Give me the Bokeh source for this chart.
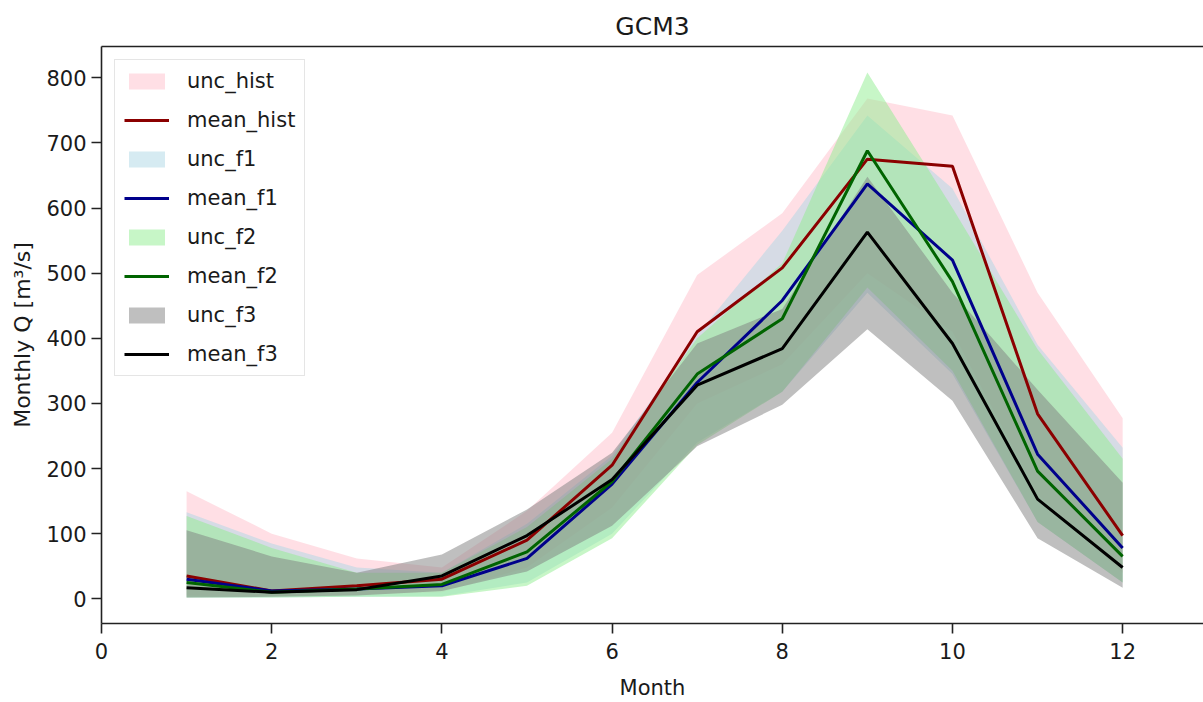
from bokeh.plotting import figure
from bokeh.models import (ColumnDataSource, Legend, LegendItem, LinearAxis,
                          FixedTicker, Range1d)
from bokeh.embed import file_html
from bokeh.resources import INLINE

# Monthly discharge, GCM3 ensemble: mean and uncertainty envelope per period
months = [1, 2, 3, 4, 5, 6, 7, 8, 9, 10, 11, 12]

hist_mean = [35, 12, 20, 30, 90, 205, 410, 508, 675, 664, 284, 97]
hist_lo = [5, 4, 6, 10, 48, 140, 300, 360, 500, 410, 160, 40]
hist_hi = [165, 100, 62, 48, 135, 255, 497, 592, 768, 742, 470, 277]

f1_mean = [30, 12, 15, 20, 62, 176, 332, 458, 637, 520, 222, 78]
f1_lo = [2, 2, 3, 4, 25, 100, 240, 318, 470, 345, 118, 25]
f1_hi = [133, 85, 48, 40, 115, 220, 405, 565, 742, 630, 390, 232]

f2_mean = [25, 10, 15, 22, 72, 180, 345, 430, 688, 487, 196, 65]
f2_lo = [2, 2, 3, 3, 20, 93, 236, 318, 478, 350, 118, 25]
f2_hi = [127, 78, 40, 40, 110, 215, 400, 515, 808, 600, 383, 215]

f3_mean = [17, 10, 14, 35, 97, 183, 328, 384, 563, 392, 153, 48]
f3_lo = [2, 3, 5, 12, 42, 112, 234, 298, 414, 304, 93, 17]
f3_hi = [105, 65, 40, 68, 137, 224, 392, 445, 648, 470, 321, 178]

x_ticks = [0, 2, 4, 6, 8, 10, 12]
y_ticks = [0, 100, 200, 300, 400, 500, 600, 700, 800]

series = [
    ("hist", hist_mean, hist_lo, hist_hi, "#ffc0cb", "#8b0000"),
    ("f1", f1_mean, f1_lo, f1_hi, "#add8e6", "#00008b"),
    ("f2", f2_mean, f2_lo, f2_hi, "#90ee90", "#006400"),
    ("f3", f3_mean, f3_lo, f3_hi, "#808080", "#000000"),
]

FONT = "DejaVu Sans"
TXT = "#1a1a1a"
SPINE = "#222222"

p = figure(width=1203, height=702, output_backend="svg", toolbar_location=None,
           x_range=Range1d(0, 12.95), y_range=Range1d(-38, 848),
           min_border_left=101, min_border_right=0, min_border_top=46,
           min_border_bottom=79, title="GCM3")

p.title.align = "center"
p.title.text_font = FONT
p.title.text_font_size = "25px"
p.title.text_font_style = "normal"
p.title.text_color = TXT
p.title.standoff = 11

p.grid.visible = False
p.outline_line_color = None
p.background_fill_color = "white"
p.border_fill_color = "white"

for ax in (p.xaxis[0], p.yaxis[0]):
    ax.axis_line_color = SPINE
    ax.axis_line_width = 1.6
    ax.major_tick_line_color = SPINE
    ax.major_tick_line_width = 1.6
    ax.major_tick_out = 10
    ax.major_tick_in = 0
    ax.minor_tick_line_color = None
    ax.major_label_text_font = FONT
    ax.major_label_text_font_size = "21px"
    ax.major_label_text_color = TXT
    ax.axis_label_text_font = FONT
    ax.axis_label_text_font_size = "22px"
    ax.axis_label_text_font_style = "normal"
    ax.axis_label_text_color = TXT

p.xaxis[0].ticker = FixedTicker(ticks=x_ticks)
p.yaxis[0].ticker = FixedTicker(ticks=y_ticks)
p.xaxis[0].axis_label = "Month"
p.xaxis[0].axis_label_text_font_size = "21px"
p.yaxis[0].axis_label = "Monthly Q [m³/s]"
p.xaxis[0].major_label_standoff = 9
p.xaxis[0].axis_label_standoff = 14
p.yaxis[0].major_label_standoff = 5
p.yaxis[0].axis_label_standoff = 8

# top spine
top = LinearAxis(ticker=FixedTicker(ticks=[]), axis_line_color=SPINE,
                 axis_line_width=1.6, major_tick_out=0, major_tick_in=0,
                 minor_tick_out=0, minor_tick_in=0, major_label_standoff=0,
                 major_label_text_font_size="0px")
p.add_layout(top, "above")

items = []
bands = []
for name, mean, lo, hi, band_color, line_color in series:
    src = ColumnDataSource(dict(x=months, mean=mean, lo=lo, hi=hi))
    band = p.varea(x="x", y1="lo", y2="hi", source=src,
                   fill_color=band_color, fill_alpha=0.5)
    bands.append((name, band, src, line_color))

for name, band, src, line_color in bands:
    line = p.line(x="x", y="mean", source=src, line_color=line_color,
                  line_width=3)
    items.append(LegendItem(label="unc_" + name, renderers=[band]))
    items.append(LegendItem(label="mean_" + name, renderers=[line]))

legend = Legend(items=items, location="top_left", margin=13,
                label_text_font=FONT, label_text_font_size="21px",
                label_text_color=TXT, glyph_width=45, glyph_height=20,
                label_height=20, label_standoff=18, spacing=15, padding=9,
                border_line_color="#cccccc", border_line_width=1.2,
                background_fill_color="white", background_fill_alpha=0.8)
p.add_layout(legend)

open("out.html", "w").write(file_html(p, INLINE))
